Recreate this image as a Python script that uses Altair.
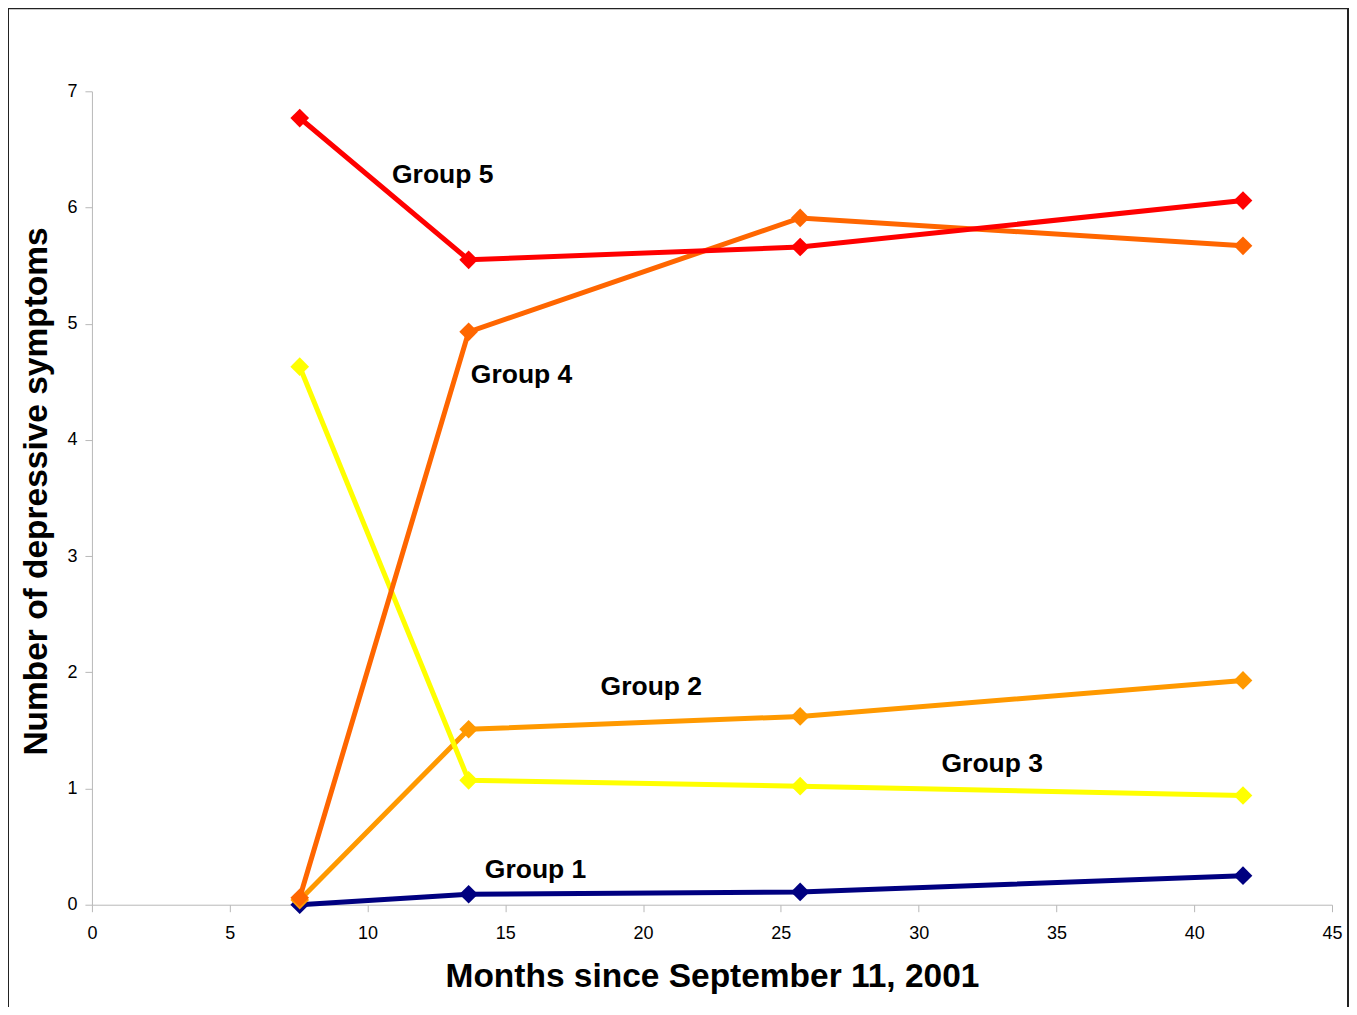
import altair as alt
import pandas as pd

months = [7.54, 13.67, 25.7, 41.77]
groups = ["Group 1", "Group 2", "Group 3", "Group 4", "Group 5"]
group1 = [0.0, 0.09, 0.11, 0.25]
group2 = [0.04, 1.51, 1.62, 1.93]
group3 = [4.63, 1.07, 1.02, 0.94]
group4 = [0.06, 4.93, 5.91, 5.67]
group5 = [6.77, 5.55, 5.66, 6.06]
colors = ["#000080", "#FF9900", "#FFFF00", "#FF6600", "#FF0000"]

label_x = [16.1, 20.3, 32.67, 15.59, 12.73]
label_y = [0.30, 1.87, 1.21, 4.56, 6.28]

x_ticks = [0, 5, 10, 15, 20, 25, 30, 35, 40, 45]
y_ticks = [0, 1, 2, 3, 4, 5, 6, 7]

series = [group1, group2, group3, group4, group5]
rows = []
for g, vals in zip(groups, series):
    for m, v in zip(months, vals):
        rows.append({"group": g, "month": m, "value": v})
df = pd.DataFrame(rows)

labels = pd.DataFrame({"group": groups, "lx": label_x, "ly": label_y})

W, H = 1241, 814

xscale = alt.Scale(domain=[0, 45], nice=False, zero=False)
yscale = alt.Scale(domain=[0, 7], nice=False, zero=False)
cscale = alt.Scale(domain=groups, range=colors)

layers = []
for i, g in enumerate(groups):
    sub = df[df["group"] == g]
    base = alt.Chart(sub).encode(
        x=alt.X("month:Q", scale=xscale,
                axis=alt.Axis(values=x_ticks, title="Months since September 11, 2001",
                              format="d", labelFlush=False,
                              labelPadding=13, titlePadding=18, tickSize=7)),
        y=alt.Y("value:Q", scale=yscale,
                axis=alt.Axis(values=y_ticks, title="Number of depressive symptoms",
                              format="d", labelFlush=False, titleY=400,
                              labelPadding=8, titlePadding=13, tickSize=7)),
        color=alt.Color("group:N", scale=cscale, legend=None),
    )
    layers.append(base.mark_line(strokeWidth=5))
    layers.append(base.mark_point(shape="diamond", filled=True, size=350, opacity=1))

text = alt.Chart(labels).mark_text(
    font="Liberation Sans", fontSize=26.5, fontWeight="bold", color="black",
    align="center", baseline="middle"
).encode(
    x=alt.X("lx:Q", scale=xscale),
    y=alt.Y("ly:Q", scale=yscale),
    text="group:N",
)

border = alt.Chart(pd.DataFrame({"a": [0]})).mark_rect(
    fill=None, stroke="#222222", strokeWidth=2
).encode(
    x=alt.value(-84), x2=alt.value(1257),
    y=alt.value(-83), y2=alt.value(1100),
)

chart = alt.layer(border, *layers, text).properties(
    width=W, height=H,
    autosize=alt.AutoSizeParams(type="none"),
    padding={"left": 84, "top": 83, "right": 17, "bottom": 102},
    background="white",
).configure_view(stroke=None).configure_axis(
    grid=False,
    domainColor="#b8b8b8",
    tickColor="#b8b8b8",
    labelFont="Liberation Sans",
    labelFontSize=18,
    labelColor="black",
    titleFont="Liberation Sans",
    titleFontSize=33.5,
    titleFontWeight="bold",
    titleColor="black",
)

chart.save("out.html", embed_options={"renderer": "svg", "actions": False})
